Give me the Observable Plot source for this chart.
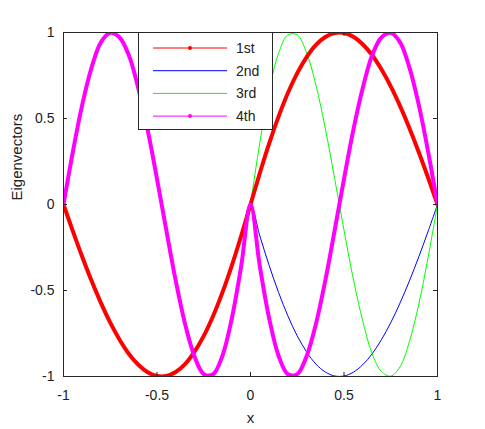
<!DOCTYPE html>
<html><head><meta charset="utf-8">
<script src="https://cdn.jsdelivr.net/npm/d3@7"></script>
<script src="https://cdn.jsdelivr.net/npm/@observablehq/plot@0.6"></script>
<style>
body{margin:0;background:#fff;}
#wrap{position:relative;width:485px;height:429px;font-family:"Liberation Sans",Arial,sans-serif;}
#legend{position:absolute;left:138px;top:32px;width:135px;height:98px;background:#fff;border:1px solid #262626;box-sizing:border-box;}
</style></head><body><div id="wrap"></div>
<script>
// x sample positions
const xs = [-1,-0.95,-0.9,-0.85,-0.8,-0.75,-0.7,-0.65,-0.6,-0.55,-0.5,-0.45,-0.4,-0.35,-0.3,-0.25,-0.2,-0.15,-0.1,-0.05,0,
            0.05,0.1,0.15,0.2,0.25,0.3,0.35,0.4,0.45,0.5,0.55,0.6,0.65,0.7,0.75,0.8,0.85,0.9,0.95,1];
// 1st eigenvector (red)
const v1 = [0,-0.155,-0.304,-0.444,-0.572,-0.687,-0.786,-0.869,-0.932,-0.975,-0.997,-0.997,-0.974,-0.928,-0.857,-0.764,-0.648,-0.511,-0.355,-0.183,0,
            0.183,0.355,0.511,0.648,0.764,0.857,0.928,0.974,0.997,0.997,0.975,0.932,0.869,0.786,0.687,0.572,0.444,0.304,0.155,0];
// 2nd eigenvector (blue)
const v2 = [0,-0.155,-0.304,-0.444,-0.572,-0.687,-0.786,-0.869,-0.932,-0.975,-0.997,-0.997,-0.974,-0.928,-0.857,-0.764,-0.648,-0.511,-0.355,-0.183,0,
            -0.183,-0.355,-0.511,-0.648,-0.764,-0.857,-0.928,-0.974,-0.997,-0.997,-0.975,-0.932,-0.869,-0.786,-0.687,-0.572,-0.444,-0.304,-0.155,0];
// 3rd eigenvector (green)
const v3 = [0,0.306,0.579,0.796,0.943,0.998,0.971,0.866,0.676,0.434,0.149,-0.151,-0.442,-0.694,-0.882,-0.986,-0.987,-0.879,-0.663,-0.360,0,
            0.360,0.663,0.879,0.987,0.986,0.882,0.694,0.442,0.151,-0.149,-0.434,-0.676,-0.866,-0.971,-0.998,-0.943,-0.796,-0.579,-0.306,0];
// 4th eigenvector (magenta)
const v4 = [0,0.306,0.579,0.796,0.943,0.998,0.971,0.866,0.676,0.434,0.149,-0.151,-0.442,-0.694,-0.882,-0.986,-0.987,-0.879,-0.663,-0.360,0,
            -0.360,-0.663,-0.879,-0.987,-0.986,-0.882,-0.694,-0.442,-0.151,0.149,0.434,0.676,0.866,0.971,0.998,0.943,0.796,0.579,0.306,0];
const seriesNames = ["1st","2nd","3rd","4th"];
const seriesColors = ["#ff0000","#0000ff","#00ff00","#ff00ff"];
const seriesWidths = [4,1,1,4];
const seriesMarker = [true,false,false,true];
const xTicks = [-1,-0.5,0,0.5,1];
const yTicks = [-1,-0.5,0,0.5,1];

const values = [v1,v2,v3,v4];
const data = values.map(v => xs.map((x,i) => ({x, y: v[i]})));
const drawOrder = [1,2,0,3];
const axisColor = "#262626";
const W = 485, H = 429, mL = 63, mR = 48, mT = 32, mB = 53;
const iw = W - mL - mR, ih = H - mT - mB, tk = 4;

const chart = Plot.plot({
  width: W, height: H,
  marginLeft: mL, marginRight: mR, marginTop: mT, marginBottom: mB,
  x: {domain: [-1, 1], label: null},
  y: {domain: [-1, 1], label: null},
  style: {fontFamily: '"Liberation Sans", Arial, sans-serif', fontSize: "14px", color: axisColor, background: "#fff"},
  marks: [
    ...drawOrder.map(k => Plot.line(data[k], {x: "x", y: "y", stroke: seriesColors[k], strokeWidth: seriesWidths[k], curve: "catmull-rom", clip: true})),
    Plot.frame({stroke: axisColor, strokeWidth: 1}),
    Plot.tickY(yTicks, {y: d => d, stroke: axisColor, insetRight: iw - tk}),
    Plot.tickY(yTicks, {y: d => d, stroke: axisColor, insetLeft: iw - tk}),
    Plot.tickX(xTicks, {x: d => d, stroke: axisColor, insetTop: ih - tk}),
    Plot.tickX(xTicks, {x: d => d, stroke: axisColor, insetBottom: ih - tk}),
    Plot.axisX(xTicks, {anchor: "bottom", tickSize: 0, tickPadding: 14, tickFormat: d => String(d), fill: "#222", fontSize: 14, label: null}),
    Plot.axisY(yTicks, {anchor: "left", tickSize: 0, tickPadding: 9, tickFormat: d => String(d), fill: "#222", fontSize: 14, label: null}),
    Plot.text(["x"], {frameAnchor: "bottom", dy: 46, text: d => d, fill: "#222", fontSize: 15}),
    Plot.text(["Eigenvectors"], {frameAnchor: "left", dx: -46, dy: -4, rotate: -90, text: d => d, fill: "#222", fontSize: 15})
  ]
});
const wrap = document.getElementById("wrap");
wrap.appendChild(chart);

// legend overlay
const leg = document.createElement("div");
leg.id = "legend";
const ns = "http://www.w3.org/2000/svg";
const ls = document.createElementNS(ns, "svg");
ls.setAttribute("width", 133); ls.setAttribute("height", 96);
ls.style.position = "absolute"; ls.style.left = "0"; ls.style.top = "0";
seriesNames.forEach((name, i) => {
  const cy = 15 + i * 22.7;
  const ln = document.createElementNS(ns, "line");
  ln.setAttribute("x1", 14); ln.setAttribute("x2", 88);
  ln.setAttribute("y1", cy); ln.setAttribute("y2", cy);
  ln.setAttribute("stroke", seriesColors[i]); ln.setAttribute("stroke-width", 1);
  ls.appendChild(ln);
  if (seriesMarker[i]) {
    const c = document.createElementNS(ns, "circle");
    c.setAttribute("cx", 51); c.setAttribute("cy", cy); c.setAttribute("r", 2);
    c.setAttribute("fill", seriesColors[i]);
    ls.appendChild(c);
  }
  const t = document.createElementNS(ns, "text");
  t.setAttribute("x", 97); t.setAttribute("y", cy + 5);
  t.setAttribute("font-size", 14); t.setAttribute("fill", "#222");
  t.setAttribute("font-family", '"Liberation Sans", Arial, sans-serif');
  t.textContent = name;
  ls.appendChild(t);
});
leg.appendChild(ls);
wrap.appendChild(leg);
</script>
</body></html>
